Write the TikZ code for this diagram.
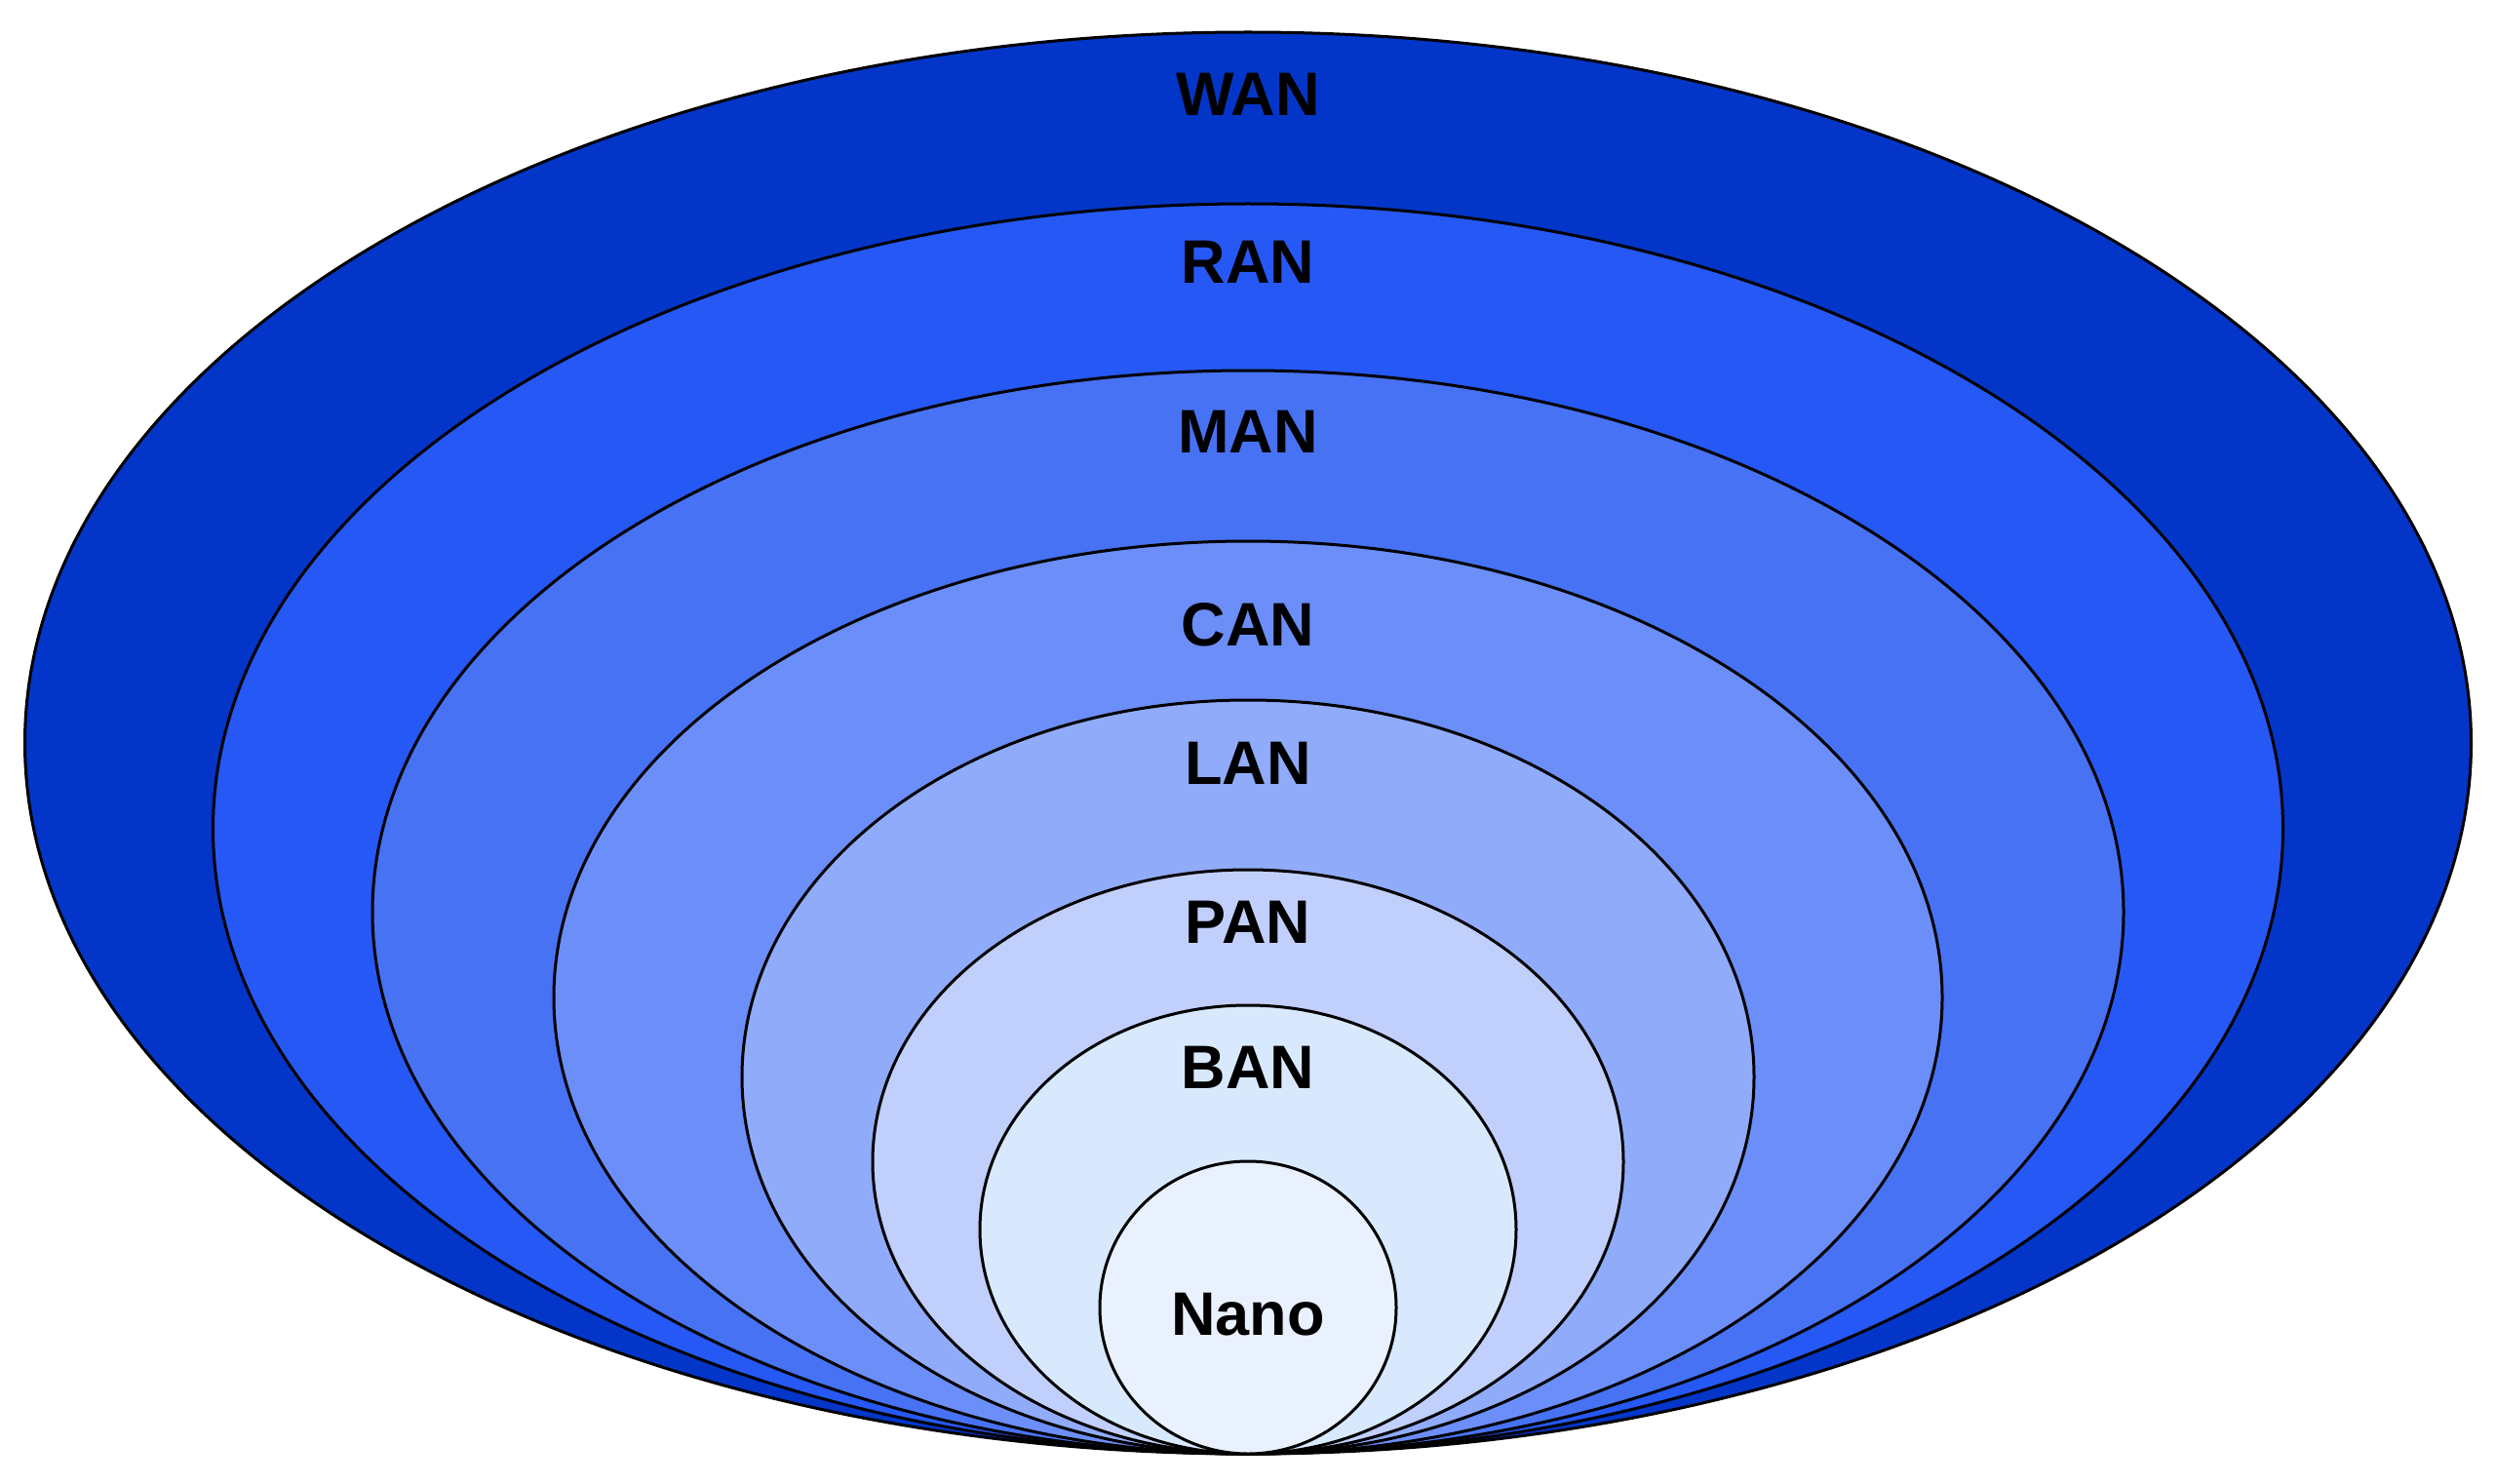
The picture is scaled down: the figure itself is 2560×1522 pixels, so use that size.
\documentclass[tikz,border=0pt]{standalone}
\usepackage{fontspec}
\setmainfont{Liberation Sans}
\definecolor{cWAN}{RGB}{3,54,200}
\definecolor{cRAN}{RGB}{38,88,245}
\definecolor{cMAN}{RGB}{71,114,244}
\definecolor{cCAN}{RGB}{108,142,249}
\definecolor{cLAN}{RGB}{144,171,249}
\definecolor{cPAN}{RGB}{193,207,253}
\definecolor{cBAN}{RGB}{216,233,254}
\definecolor{cNano}{RGB}{234,241,254}
\begin{document}
\begin{tikzpicture}[x=1pt,y=-1pt,
  ring/.style={draw=black,line width=3pt},
  lab/.style={anchor=base,inner sep=0pt,font=\fontsize{63}{75}\selectfont\bfseries}]
\useasboundingbox (0,0) rectangle (2560,1522);
\filldraw[ring,fill=cWAN]  (1280,762)   ellipse [x radius=1254.5,y radius=729];
\filldraw[ring,fill=cRAN]  (1280,850)   ellipse [x radius=1061.5,y radius=641];
\filldraw[ring,fill=cMAN]  (1280,935.5) ellipse [x radius=898,y radius=555.5];
\filldraw[ring,fill=cCAN]  (1280,1023)  ellipse [x radius=712,y radius=468];
\filldraw[ring,fill=cLAN]  (1280,1104.5)ellipse [x radius=519,y radius=386.5];
\filldraw[ring,fill=cPAN]  (1280,1191.5)ellipse [x radius=385,y radius=299.5];
\filldraw[ring,fill=cBAN]  (1280,1261)  ellipse [x radius=275,y radius=230];
\filldraw[ring,fill=cNano] (1280,1341)  ellipse [x radius=152,y radius=150];
\node[lab] (wan)  at (1280,119)  {WAN};
\node[lab] (ran)  at (1280,291)  {RAN};
\node[lab] (man)  at (1280,464)  {MAN};
\node[lab] (can)  at (1280,662)  {CAN};
\node[lab] (lan)  at (1280,804)  {LAN};
\node[lab] (pan)  at (1280,967)  {PAN};
\node[lab] (ban)  at (1280,1116) {BAN};
\node[lab] (nano) at (1280,1369) {Nano};
\end{tikzpicture}
\end{document}
